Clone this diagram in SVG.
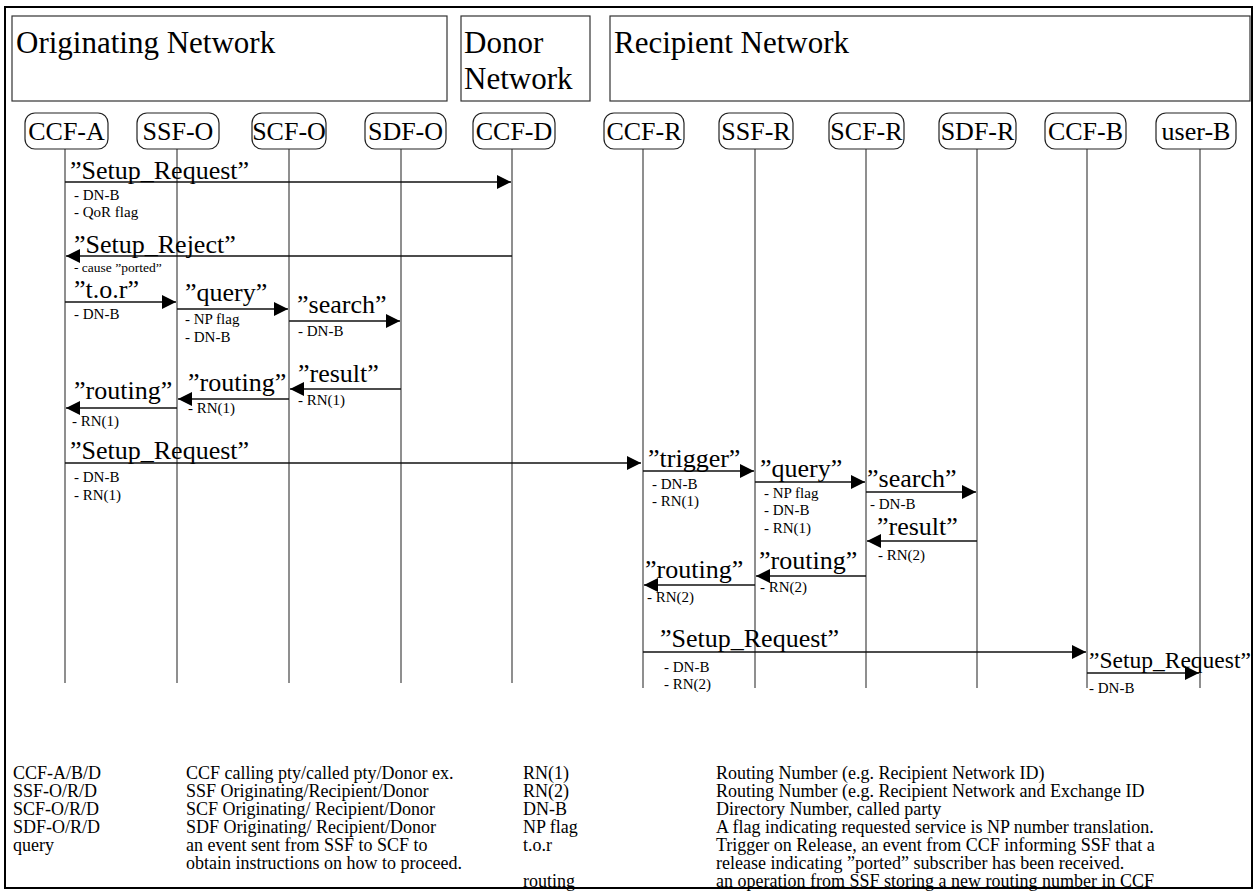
<svg xmlns="http://www.w3.org/2000/svg" width="1257" height="892" viewBox="0 0 1257 892">
<style>
text{font-family:"Liberation Serif","Times New Roman",serif;fill:#000}
.hdr{font-size:31px}
.head{font-size:26px;text-anchor:middle}
.lbl{font-size:26px}
.note{font-size:15px}
.leg{font-size:18px}
.box{fill:#fff;stroke:#333;stroke-width:1.2}
.hbox{fill:#fff;stroke:#222;stroke-width:1.2}
.life{stroke:#333;stroke-width:1.1}
.msg{stroke:#111;stroke-width:1.5;fill:none;marker-end:url(#ah)}
</style>
<defs>
<marker id="ah" markerUnits="userSpaceOnUse" markerWidth="14" markerHeight="14" viewBox="0 0 12 12" refX="12" refY="6" orient="auto">
<path d="M0,0 L12,6 L0,12 Z" fill="#000"/>
</marker>
</defs>
<rect x="0" y="0" width="1257" height="892" fill="#fff"/>
<rect x="5" y="7" width="1247" height="881" fill="none" stroke="#000" stroke-width="2"/>

<g id="originating-network"><rect class="box" x="12" y="16" width="435" height="85"/><text class="hdr" x="16" y="53">Originating Network</text></g>
<g id="donor-network"><rect class="box" x="461" y="16" width="129" height="85"/><text class="hdr" x="464" y="53">Donor</text><text class="hdr" x="464" y="89">Network</text></g>
<g id="recipient-network"><rect class="box" x="610" y="16" width="640" height="85"/><text class="hdr" x="614" y="53">Recipient Network</text></g>

<g id="lifelines">
<line class="life" x1="65" y1="149" x2="65" y2="683"/>
<line class="life" x1="177" y1="149" x2="177" y2="683"/>
<line class="life" x1="289" y1="149" x2="289" y2="683"/>
<line class="life" x1="401" y1="149" x2="401" y2="683"/>
<line class="life" x1="512" y1="149" x2="512" y2="683"/>
<line class="life" x1="643" y1="149" x2="643" y2="688"/>
<line class="life" x1="755" y1="149" x2="755" y2="688"/>
<line class="life" x1="866" y1="149" x2="866" y2="688"/>
<line class="life" x1="977" y1="149" x2="977" y2="688"/>
<line class="life" x1="1087" y1="149" x2="1087" y2="688"/>
<line class="life" x1="1200" y1="149" x2="1200" y2="688"/>
</g>

<g id="CCF-A"><rect class="hbox" x="25" y="113" width="83" height="36" rx="10"/><text class="head" x="66.5" y="140">CCF-A</text></g>
<g id="SSF-O"><rect class="hbox" x="137" y="113" width="82" height="36" rx="10"/><text class="head" x="178" y="140">SSF-O</text></g>
<g id="SCF-O"><rect class="hbox" x="252" y="113" width="74" height="36" rx="10"/><text class="head" x="289" y="140">SCF-O</text></g>
<g id="SDF-O"><rect class="hbox" x="365" y="113" width="81" height="36" rx="10"/><text class="head" x="405.5" y="140">SDF-O</text></g>
<g id="CCF-D"><rect class="hbox" x="473" y="113" width="82" height="36" rx="10"/><text class="head" x="514" y="140">CCF-D</text></g>
<g id="CCF-R"><rect class="hbox" x="604" y="113" width="80" height="36" rx="10"/><text class="head" x="644" y="140">CCF-R</text></g>
<g id="SSF-R"><rect class="hbox" x="719" y="113" width="74" height="36" rx="10"/><text class="head" x="756" y="140">SSF-R</text></g>
<g id="SCF-R"><rect class="hbox" x="829" y="113" width="75" height="36" rx="10"/><text class="head" x="866.5" y="140">SCF-R</text></g>
<g id="SDF-R"><rect class="hbox" x="939" y="113" width="77" height="36" rx="10"/><text class="head" x="977.5" y="140">SDF-R</text></g>
<g id="CCF-B"><rect class="hbox" x="1045" y="113" width="81" height="36" rx="10"/><text class="head" x="1085.5" y="140">CCF-B</text></g>
<g id="user-B"><rect class="hbox" x="1156" y="113" width="80" height="36" rx="10"/><text class="head" x="1196" y="140">user-B</text></g>

<g id="connectors">
<line class="msg" x1="65" y1="182" x2="511" y2="182"/>
<line class="msg" x1="512" y1="256" x2="66" y2="256"/>
<line class="msg" x1="65" y1="302" x2="176" y2="302"/>
<line class="msg" x1="177" y1="309" x2="288" y2="309"/>
<line class="msg" x1="289" y1="321" x2="400" y2="321"/>
<line class="msg" x1="401" y1="389" x2="290" y2="389"/>
<line class="msg" x1="289" y1="399" x2="178" y2="399"/>
<line class="msg" x1="177" y1="408" x2="66" y2="408"/>
<line class="msg" x1="65" y1="463" x2="641" y2="463"/>
<line class="msg" x1="643" y1="471" x2="754" y2="471"/>
<line class="msg" x1="755" y1="482" x2="865" y2="482"/>
<line class="msg" x1="866" y1="492" x2="976" y2="492"/>
<line class="msg" x1="977" y1="541" x2="867" y2="541"/>
<line class="msg" x1="866" y1="576" x2="756" y2="576"/>
<line class="msg" x1="755" y1="585" x2="644" y2="585"/>
<line class="msg" x1="643" y1="652" x2="1086" y2="652"/>
<line class="msg" x1="1087" y1="673" x2="1199" y2="673"/>
</g>

<g id="labels">
<text class="lbl" x="70" y="179">”Setup_Request”</text>
<text class="note" x="74" y="200">- DN-B</text>
<text class="note" x="74" y="217">- QoR flag</text>
<text class="lbl" x="74" y="253">”Setup_Reject”</text>
<text class="note" x="74" y="272" style="font-size:13.5px">- cause ”ported”</text>
<text class="lbl" x="74" y="298">”t.o.r”</text>
<text class="note" x="74" y="319">- DN-B</text>
<text class="lbl" x="185" y="301">”query”</text>
<text class="note" x="185" y="324">- NP flag</text>
<text class="note" x="185" y="342">- DN-B</text>
<text class="lbl" x="297" y="313">”search”</text>
<text class="note" x="298" y="336">- DN-B</text>
<text class="lbl" x="298" y="382">”result”</text>
<text class="note" x="298" y="405">- RN(1)</text>
<text class="lbl" x="188" y="391">”routing”</text>
<text class="note" x="188" y="413">- RN(1)</text>
<text class="lbl" x="74" y="399">”routing”</text>
<text class="note" x="72" y="426">- RN(1)</text>
<text class="lbl" x="70" y="459">”Setup_Request”</text>
<text class="note" x="74" y="482">- DN-B</text>
<text class="note" x="74" y="500">- RN(1)</text>
<text class="lbl" x="648" y="467">”trigger”</text>
<text class="note" x="652" y="489">- DN-B</text>
<text class="note" x="652" y="506">- RN(1)</text>
<text class="lbl" x="760" y="477">”query”</text>
<text class="note" x="764" y="498">- NP flag</text>
<text class="note" x="764" y="515">- DN-B</text>
<text class="note" x="764" y="533">- RN(1)</text>
<text class="lbl" x="867" y="487">”search”</text>
<text class="note" x="870" y="509">- DN-B</text>
<text class="lbl" x="877" y="535">”result”</text>
<text class="note" x="878" y="560">- RN(2)</text>
<text class="lbl" x="759" y="569">”routing”</text>
<text class="note" x="760" y="592">- RN(2)</text>
<text class="lbl" x="645" y="578">”routing”</text>
<text class="note" x="647" y="602">- RN(2)</text>
<text class="lbl" x="660" y="647">”Setup_Request”</text>
<text class="note" x="664" y="672">- DN-B</text>
<text class="note" x="664" y="689">- RN(2)</text>
<text class="lbl" x="1089" y="668" style="font-size:23.5px">”Setup_Request”</text>
<text class="note" x="1089" y="693">- DN-B</text>
</g>

<g id="legend">
<text class="leg" x="13" y="779">CCF-A/B/D</text>
<text class="leg" x="13" y="797">SSF-O/R/D</text>
<text class="leg" x="13" y="815">SCF-O/R/D</text>
<text class="leg" x="13" y="833">SDF-O/R/D</text>
<text class="leg" x="13" y="851">query</text>
<text class="leg" x="186" y="779">CCF calling pty/called pty/Donor ex.</text>
<text class="leg" x="186" y="797">SSF Originating/Recipient/Donor</text>
<text class="leg" x="186" y="815">SCF Originating/ Recipient/Donor</text>
<text class="leg" x="186" y="833">SDF Originating/ Recipient/Donor</text>
<text class="leg" x="186" y="851">an event sent from SSF to SCF to</text>
<text class="leg" x="186" y="869">obtain instructions on how to proceed.</text>
<text class="leg" x="523" y="779">RN(1)</text>
<text class="leg" x="523" y="797">RN(2)</text>
<text class="leg" x="523" y="815">DN-B</text>
<text class="leg" x="523" y="833">NP flag</text>
<text class="leg" x="523" y="851">t.o.r</text>
<text class="leg" x="523" y="887">routing</text>
<text class="leg" x="716" y="779">Routing Number (e.g. Recipient Network ID)</text>
<text class="leg" x="716" y="797">Routing Number (e.g. Recipient Network and Exchange ID</text>
<text class="leg" x="716" y="815">Directory Number, called party</text>
<text class="leg" x="716" y="833">A flag indicating requested service is NP number translation.</text>
<text class="leg" x="716" y="851">Trigger on Release, an event from CCF informing SSF that a</text>
<text class="leg" x="716" y="869">release indicating ”ported” subscriber has been received.</text>
<text class="leg" x="716" y="887">an operation from SSF storing a new routing number in CCF</text>
</g>
</svg>
